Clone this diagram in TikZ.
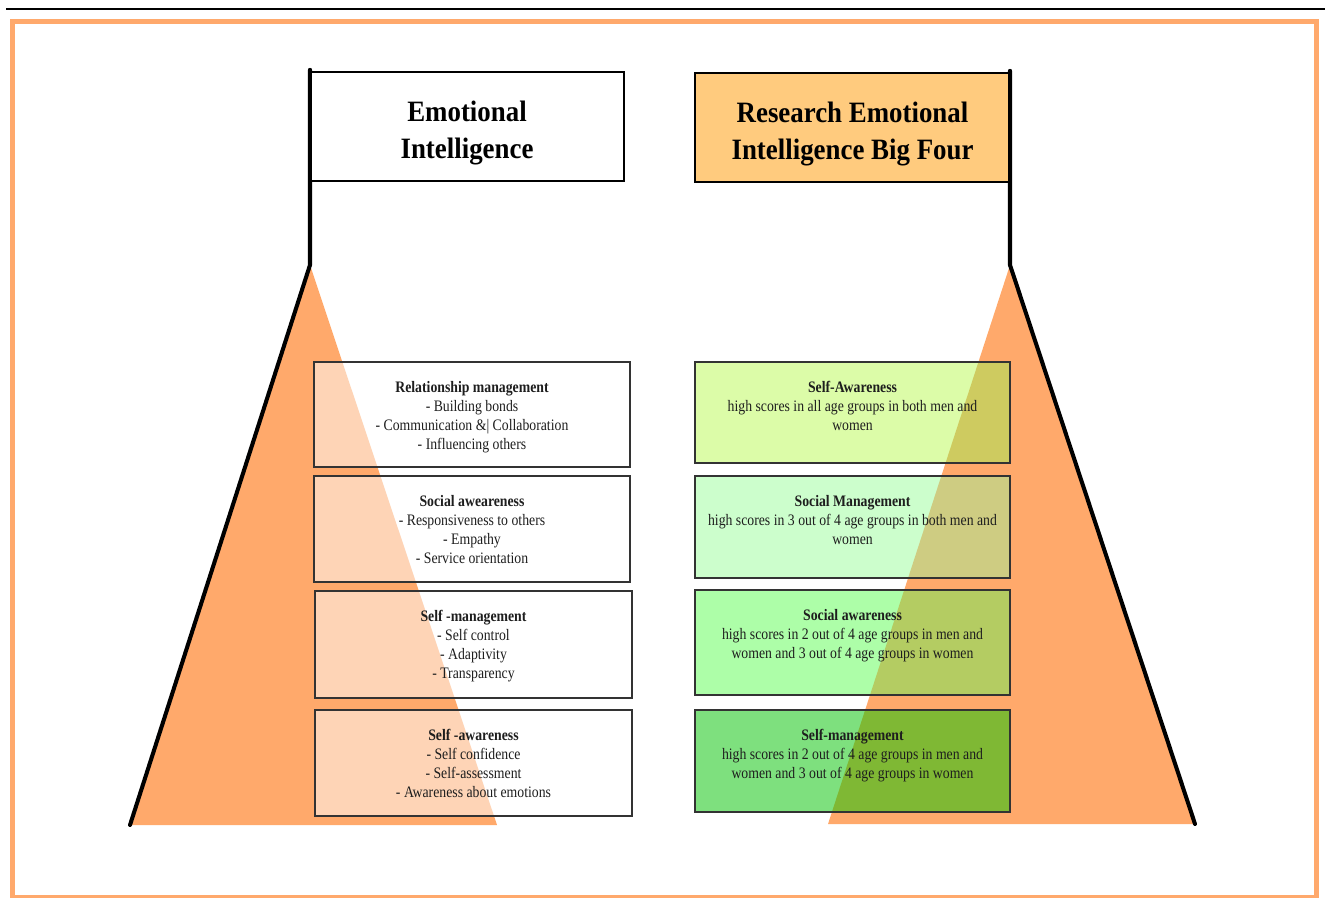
\documentclass[tikz,border=0pt]{standalone}
\usepackage{fontspec}
\setmainfont{Liberation Serif}
\newfontfamily\hfont[FakeStretch=0.91]{Liberation Serif}
\newfontfamily\sfont[FakeStretch=0.86]{Liberation Serif}
\definecolor{frameor}{HTML}{FFA96C}
\definecolor{triior}{HTML}{FFA96B}
\definecolor{peach}{HTML}{FED4B6}
\definecolor{hdrfill}{HTML}{FFCB7E}
\definecolor{gA}{HTML}{DCFCA8}
\definecolor{gAo}{HTML}{CECB60}
\definecolor{gB}{HTML}{CCFECC}
\definecolor{gBo}{HTML}{CECC82}
\definecolor{gC}{HTML}{ADFEA8}
\definecolor{gCo}{HTML}{B4CC62}
\definecolor{gD}{HTML}{7EE07E}
\definecolor{gDo}{HTML}{7FB834}
\definecolor{bord}{HTML}{333333}
\definecolor{txt}{HTML}{1E1E1E}
\tikzset{
  boxbase/.style={rectangle, inner sep=0pt, outer sep=0pt, draw=none},
  hdrbox/.style={boxbase, draw=black, line width=0.75pt, minimum width=3.14cm, minimum height=1.09cm},
  hdrtext/.style={anchor=north, inner sep=0pt, align=center, text=black, font=\hfont\bfseries\fontsize{8.4pt}{10.5pt}\selectfont},
  smalltext/.style={anchor=north, inner sep=0pt, align=center, text=txt, font=\sfont\fontsize{4.55pt}{5.35pt}\selectfont},
  boxline/.style={draw=bord, line width=0.6pt},
  pole/.style={draw=black, line width=1.15pt, line cap=round},
}
\begin{document}
\begin{tikzpicture}[x=0.01cm,y=-0.01cm]
\useasboundingbox (0,0) rectangle (1325,898);
% top rule and frame
\coordinate (ruleL) at (6,9);
\coordinate (ruleR) at (1325,9);
\draw[black, line width=0.6pt] (ruleL) -- (ruleR);
\coordinate (frTL) at (12.5,21.5);
\coordinate (frBR) at (1316.5,897);
\draw[frameor, line width=1.4pt] (frTL) rectangle (frBR);
% triangle coordinates
\coordinate (lA) at (310,265);
\coordinate (lB) at (130,825);
\coordinate (lC) at (497,825);
\coordinate (rA) at (1010,265);
\coordinate (rB) at (1195,824);
\coordinate (rC) at (828,824);
\fill[triior] (lA) -- (lB) -- (lC) -- cycle;
\fill[triior] (rA) -- (rB) -- (rC) -- cycle;
% left boxes
\node[boxbase, fill=white, minimum width=3.16cm, minimum height=1.05cm] (l1) at (472,414.5) {};
\node[boxbase, fill=white, minimum width=3.16cm, minimum height=1.06cm] (l2) at (472,529) {};
\node[boxbase, fill=white, minimum width=3.17cm, minimum height=1.07cm] (l3) at (473.5,644.5) {};
\node[boxbase, fill=white, minimum width=3.17cm, minimum height=1.06cm] (l4) at (473.5,763) {};
% right boxes
\node[boxbase, fill=gA, minimum width=3.15cm, minimum height=1.01cm] (r1) at (852.5,412.5) {};
\node[boxbase, fill=gB, minimum width=3.15cm, minimum height=1.02cm] (r2) at (852.5,527) {};
\node[boxbase, fill=gC, minimum width=3.15cm, minimum height=1.05cm] (r3) at (852.5,642.5) {};
\node[boxbase, fill=gD, minimum width=3.15cm, minimum height=1.02cm] (r4) at (852.5,761) {};
% overlaps
\begin{scope}
  \clip (lA) -- (lB) -- (lC) -- cycle;
  \fill[peach] (l1.north west) rectangle (l1.south east);
  \fill[peach] (l2.north west) rectangle (l2.south east);
  \fill[peach] (l3.north west) rectangle (l3.south east);
  \fill[peach] (l4.north west) rectangle (l4.south east);
\end{scope}
\begin{scope}
  \clip (rA) -- (rB) -- (rC) -- cycle;
  \fill[gAo] (r1.north west) rectangle (r1.south east);
  \fill[gBo] (r2.north west) rectangle (r2.south east);
  \fill[gCo] (r3.north west) rectangle (r3.south east);
  \fill[gDo] (r4.north west) rectangle (r4.south east);
\end{scope}
\foreach \b in {l1,l2,l3,l4,r1,r2,r3,r4}{
  \draw[boxline] (\b.north west) rectangle (\b.south east);
}
% triangle sides and poles
\coordinate (lTop) at (310,70);
\coordinate (rTop) at (1010,71);
\draw[pole] (lTop) -- (lA) -- (lB);
\draw[pole] (rTop) -- (rA) -- (rB);
% header boxes
\node[hdrbox, fill=white] (hl) at (467,126.5) {};
\node[hdrbox, fill=hdrfill, minimum width=3.15cm] (hr) at (852.5,127.5) {};
\draw[pole] (lTop) -- (lA);
\draw[pole] (rTop) -- (rA);
\node[hdrtext] (hlt) at ([yshift=-0.28cm]hl.north) {Emotional\\Intelligence};
\node[hdrtext] (hrt) at ([yshift=-0.28cm]hr.north) {Research Emotional\\Intelligence Big Four};
% left texts
\node[smalltext] (l1t) at ([yshift=-0.19cm]l1.north) {\textbf{Relationship management}\\- Building bonds\\- Communication \&| Collaboration\\- Influencing others};
\node[smalltext] (l2t) at ([yshift=-0.19cm]l2.north) {\textbf{Social aweareness}\\- Responsiveness to others\\- Empathy\\- Service orientation};
\node[smalltext] (l3t) at ([yshift=-0.19cm]l3.north) {\textbf{Self -management}\\- Self control\\- Adaptivity\\- Transparency};
\node[smalltext] (l4t) at ([yshift=-0.19cm]l4.north) {\textbf{Self -awareness}\\- Self confidence\\- Self-assessment\\- Awareness about emotions};
% right texts
\node[smalltext] (r1t) at ([yshift=-0.19cm]r1.north) {\textbf{Self-Awareness}\\high scores in all age groups in both men and\\women};
\node[smalltext] (r2t) at ([yshift=-0.19cm]r2.north) {\textbf{Social Management}\\high scores in 3 out of 4 age groups in both men and\\women};
\node[smalltext] (r3t) at ([yshift=-0.19cm]r3.north) {\textbf{Social awareness}\\high scores in 2 out of 4 age groups in men and\\women and 3 out of 4 age groups in women};
\node[smalltext] (r4t) at ([yshift=-0.19cm]r4.north) {\textbf{Self-management}\\high scores in 2 out of 4 age groups in men and\\women and 3 out of 4 age groups in women};
\end{tikzpicture}
\end{document}
